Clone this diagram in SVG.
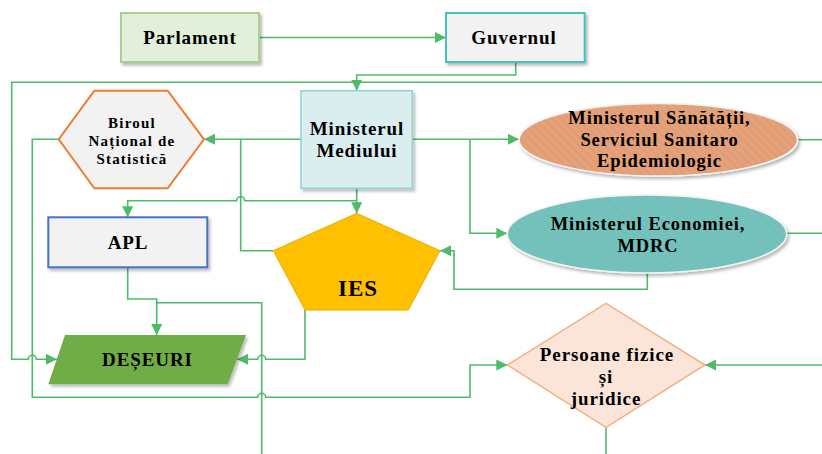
<svg xmlns="http://www.w3.org/2000/svg" width="822" height="454" viewBox="0 0 822 454">
  <style>
    .lbl { font-family: "Liberation Serif", "Times New Roman", serif; font-weight: bold; fill: #000; text-anchor: middle; letter-spacing: 0.9px; }
    .f19 { font-size: 19px; }
    .f18 { font-size: 18.5px; }
    .f15 { font-size: 15px; letter-spacing: 1.2px; }
    .f23 { font-size: 23px; letter-spacing: 1px; }
    .conn { fill: none; stroke: #4dbb69; stroke-width: 1.6; }
    .arr { marker-end: url(#arrow); }
  </style>
  <defs>
    <marker id="arrow" viewBox="0 0 10 10" refX="10" refY="5" markerWidth="11" markerHeight="11" markerUnits="userSpaceOnUse" orient="auto">
      <path d="M0,0 L10,5 L0,10 Z" fill="#4dbb69"/>
    </marker>
    <filter id="shadow" x="-10%" y="-10%" width="125%" height="130%">
      <feDropShadow dx="2" dy="2.5" stdDeviation="1.6" flood-color="#000" flood-opacity="0.28"/>
    </filter>
    <pattern id="hatchOrange" width="6" height="6" patternUnits="userSpaceOnUse" patternTransform="rotate(-45)">
      <rect width="6" height="6" fill="#e4a17a"/>
      <line x1="0" y1="0" x2="0" y2="6" stroke="#d99066" stroke-width="1"/>
    </pattern>
    <pattern id="hatchTeal" width="6" height="6" patternUnits="userSpaceOnUse" patternTransform="rotate(-45)">
      <rect width="6" height="6" fill="#74c2bc"/>
      <line x1="0" y1="0" x2="0" y2="6" stroke="#68b8b2" stroke-width="1"/>
    </pattern>
  </defs>

  <rect width="822" height="454" fill="#ffffff"/>

  <!-- connectors -->
  <g id="connectors">
    <path class="conn arr" d="M259,37.5 H446"/>
    <path class="conn arr" d="M515.7,62 V75 H356.7 V90.7"/>
    <path class="conn arr" d="M822,82.3 H11.7 V359.3 H28.3 A4,4 0 0 1 36.3,359.3 H57"/>
    <path class="conn arr" d="M301,139.3 H204"/>
    <path class="conn" d="M273.3,250.7 H240.7 V139.3"/>
    <path class="conn arr" d="M412.3,139.3 H519"/>
    <path class="conn arr" d="M470,139.3 V233.3 H507.3"/>
    <path class="conn arr" d="M356.7,188.3 V213.3"/>
    <path class="conn arr" d="M356.7,200.7 H244.7 A4,4 0 0 0 236.7,200.7 H127.7 V217.3"/>
    <path class="conn arr" d="M127.7,267.3 V299 H156.7 V335"/>
    <path class="conn" d="M261.7,454 V302.7 H156.7"/>
    <path class="conn arr" d="M305,310 V359.3 H265.7 A4,4 0 0 0 257.7,359.3 H237"/>
    <path class="conn arr" d="M58.7,139.3 H32.3 V397.3 H257.7 A4,4 0 0 1 265.7,397.3 H470 V365 H507.3"/>
    <path class="conn arr" d="M647.3,273.3 V289.3 H454 V250.7 H440"/>
    <path class="conn" d="M797.7,139.7 H822"/>
    <path class="conn" d="M786.7,233.3 H822"/>
    <path class="conn arr" d="M822,365 H705"/>
    <path class="conn" d="M606,427.3 V454"/>
  </g>

  <!-- nodes -->
  <g id="parlament">
    <rect x="121" y="13" width="138" height="49" fill="#e2efda" stroke="#a9d18e" stroke-width="2" filter="url(#shadow)"/>
    <text class="lbl f19" x="190" y="43.5">Parlament</text>
  </g>

  <g id="guvernul">
    <rect x="446" y="13" width="138.7" height="49" fill="#f2f2f2" stroke="#43c3bd" stroke-width="2" filter="url(#shadow)"/>
    <text class="lbl f19" x="514" y="43.5">Guvernul</text>
  </g>

  <g id="ministerul-mediului">
    <rect x="301" y="90.7" width="111.3" height="97.6" fill="#daeef0" stroke="#8fd3cf" stroke-width="1.5" filter="url(#shadow)"/>
    <text class="lbl f19" x="357" y="135">Ministerul</text>
    <text class="lbl f19" x="357" y="157">Mediului</text>
  </g>

  <g id="biroul">
    <polygon points="58.7,139.3 94.3,90.7 167.7,90.7 204,139.3 167.7,188.3 94.3,188.3" fill="#f2f2f2" stroke="#ed7d31" stroke-width="2"/>
    <text class="lbl f15" x="132" y="127.5">Biroul</text>
    <text class="lbl f15" x="132" y="145.5">Național de</text>
    <text class="lbl f15" x="132" y="163.5">Statistică</text>
  </g>

  <g id="ministerul-sanatatii">
    <ellipse cx="658.3" cy="139.7" rx="139.3" ry="36.3" fill="url(#hatchOrange)" stroke="#f3f3f3" stroke-width="1.5" filter="url(#shadow)"/>
    <text class="lbl f18" x="659.5" y="124">Ministerul Sănătății,</text>
    <text class="lbl f18" x="659.5" y="146">Serviciul Sanitaro</text>
    <text class="lbl f18" x="659.5" y="166.5">Epidemiologic</text>
  </g>

  <g id="ministerul-economiei">
    <ellipse cx="647" cy="234" rx="139.7" ry="39" fill="url(#hatchTeal)" stroke="#f3f3f3" stroke-width="1.5" filter="url(#shadow)"/>
    <text class="lbl f18" x="648" y="229.5">Ministerul Economiei,</text>
    <text class="lbl f18" x="648" y="252">MDRC</text>
  </g>

  <g id="apl">
    <rect x="48.3" y="217.3" width="159" height="50" fill="#f2f2f2" stroke="#4472c4" stroke-width="2" filter="url(#shadow)"/>
    <text class="lbl f19" x="128" y="248.5">APL</text>
  </g>

  <g id="ies">
    <polygon points="356.7,213.3 440,250.7 408.3,310 305,310 273.3,250.7" fill="#ffc000" stroke="#e6ad00" stroke-width="1"/>
    <text class="lbl f23" x="358" y="296">IES</text>
  </g>

  <g id="deseuri">
    <polygon points="65,335 246,335 227.7,384.3 48.3,384.3" fill="#70ad47" filter="url(#shadow)"/>
    <text class="lbl f19" x="147.5" y="366">DEȘEURI</text>
  </g>

  <g id="persoane">
    <polygon points="606,303.3 705,365 606,427.3 507.3,365" fill="#fbe4d8" stroke="#f4b183" stroke-width="1.5"/>
    <text class="lbl f19" x="607" y="361">Persoane fizice</text>
    <text class="lbl f19" x="606" y="383">și</text>
    <text class="lbl f19" x="606" y="404.5">juridice</text>
  </g>
</svg>
